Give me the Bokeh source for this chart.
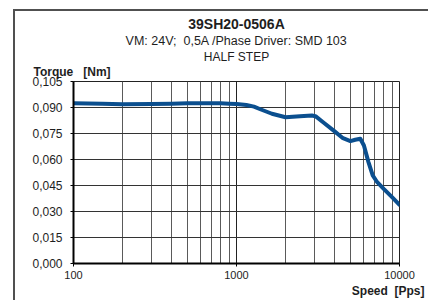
from bokeh.plotting import figure
from bokeh.models import FixedTicker, Range1d, Title
from bokeh.embed import file_html
from bokeh.resources import INLINE

# ---- data ----
speed = [100, 150, 200, 300, 400, 500, 600, 700, 800, 900, 1000, 1150, 1280, 1400,
         1650, 2000, 2450, 2900, 3050, 3400, 4000, 4500, 5000, 5350, 5750, 6050,
         6450, 6850, 7250, 8000, 9000, 10000]
torque = [0.0924, 0.0921, 0.0919, 0.0920, 0.0922, 0.0924, 0.0925, 0.0925, 0.0924,
          0.0922, 0.0920, 0.0914, 0.0905, 0.0890, 0.0864, 0.0844, 0.0850, 0.0854,
          0.0850, 0.0815, 0.0762, 0.0723, 0.0706, 0.0714, 0.0720, 0.0681, 0.0585,
          0.0508, 0.0473, 0.0431, 0.0383, 0.0339]

y_ticks = [0.0, 0.015, 0.030, 0.045, 0.060, 0.075, 0.090, 0.105]
y_tick_labels = ["0,000", "0,015", "0,030", "0,045", "0,060", "0,075", "0,090", "0,105"]
x_ticks = [100, 1000, 10000]
x_tick_labels = ["100", "1000", "10000"]
x_minor = [200, 300, 400, 500, 600, 700, 800, 900,
           2000, 3000, 4000, 5000, 6000, 7000, 8000, 9000]

title = "39SH20-0506A"
subtitle = "VM: 24V;\u00a0 0,5A /Phase Driver: SMD 103"
subtitle2 = "HALF STEP"
y_title = "Torque\u00a0\u00a0 [Nm]"
x_title = "Speed\u00a0 [Pps]"

FONT = "Liberation Sans"
TXT = "#1e1e1e"

p = figure(width=415, height=291, x_axis_type="log", output_backend="svg",
           toolbar_location=None, x_range=Range1d(100, 10000), y_range=Range1d(0, 0.105),
           min_border_left=58, min_border_right=31, min_border_top=70, min_border_bottom=39)
p.margin = (9, 0, 0, 13)
p.styles = {"border-top": "2px solid #505050", "border-left": "2px solid #505050"}
p.title = None
p.background_fill_color = "white"
p.border_fill_color = "white"
p.outline_line_color = "#222222"
p.outline_line_width = 1

# axes
p.xaxis.ticker = FixedTicker(ticks=x_ticks, minor_ticks=x_minor)
p.yaxis.ticker = FixedTicker(ticks=y_ticks)
p.yaxis.major_label_overrides = {t: l for t, l in zip(y_ticks, y_tick_labels)}
p.xaxis.major_label_overrides = {t: l for t, l in zip(x_ticks, x_tick_labels)}
for ax in (p.xaxis, p.yaxis):
    ax.axis_line_color = "black"
    ax.axis_line_width = 2
    ax.major_tick_line_color = "black"
    ax.major_tick_out = 3
    ax.major_tick_in = 0
    ax.minor_tick_line_color = None
    ax.major_label_text_font = FONT
    ax.major_label_text_color = TXT
p.yaxis.major_label_text_font_size = "12px"
p.yaxis.major_label_standoff = 8
p.xaxis.major_label_text_font_size = "11px"
p.xaxis.major_label_standoff = 3

# grid
p.xgrid.grid_line_color = "#222222"
p.xgrid.minor_grid_line_color = "#5a5a5a"
p.xgrid.minor_grid_line_width = 1
p.ygrid.grid_line_color = "#333333"

# curve
p.line(speed, torque, line_color="#0b4f8f", line_width=4, line_join="round", line_cap="round")

# titles (first added = nearest to the plot area)
def ttl(text, size, bold, align, offset, standoff, valign="bottom"):
    return Title(text=text, text_font=FONT, text_font_size=size,
                 text_font_style="bold" if bold else "normal", text_color=TXT,
                 align=align, offset=offset, standoff=standoff, vertical_align=valign)

p.add_layout(ttl(y_title, "12px", True, "left", -40, 2, "top"), "above")
p.add_layout(ttl(subtitle2, "12px", False, "center", -9, 0), "above")
p.add_layout(ttl(subtitle, "12.5px", False, "center", -11, 0), "above")
p.add_layout(ttl(title, "14px", True, "center", -7, 0), "above")
p.add_layout(ttl(x_title, "12px", True, "right", -25, 0), "below")

open("out.html", "w").write(file_html(p, INLINE))
